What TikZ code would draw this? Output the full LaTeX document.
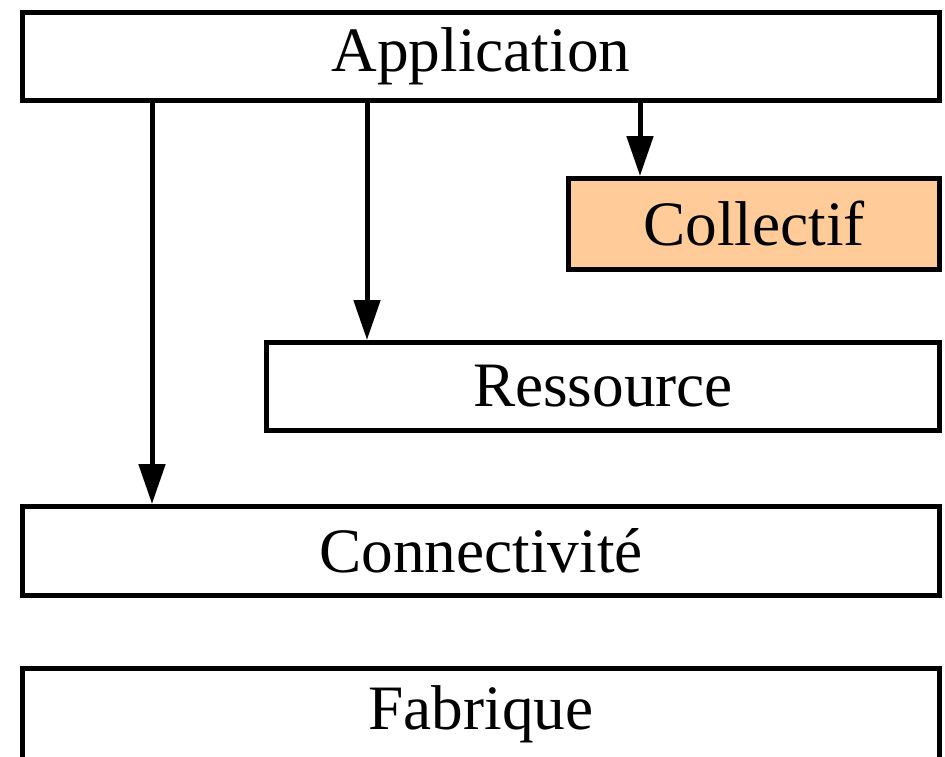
\documentclass[tikz,border=0pt]{standalone}
\usepackage{fontspec}
\setmainfont{Liberation Serif}
\usepackage{xcolor}
\definecolor{gridpeach}{RGB}{255,204,153}
\usetikzlibrary{arrows.meta,positioning}

\begin{document}
\begin{tikzpicture}[
  layer/.style={draw,line width=0.1cm,fill=white,inner sep=0pt,font=\fontsize{36}{40}\selectfont},
  flow/.style={line width=0.1cm,-{Triangle[length=0.8cm,width=0.52cm]}}]
  \useasboundingbox (0,0) rectangle (18.9,-15.12);
  % grid protocol layers
  \node[layer,minimum width=18.34cm,minimum height=1.76cm] (app) at (9.62,-1.13) {Application};
  \node[layer,fill=gridpeach,minimum width=7.42cm,minimum height=1.82cm] (coll) at (15.08,-4.48) {Collectif};
  \node[layer,minimum width=13.46cm,minimum height=1.76cm] (res) at (12.06,-7.73) {Ressource};
  \node[layer,minimum width=18.34cm,minimum height=1.78cm] (conn) at (9.62,-11.02) {Connectivité};
  \node[layer,minimum width=18.34cm,minimum height=1.84cm] (fab) at (9.62,-14.29) {Fabrique};
  \coordinate (xconn) at (3.04,0);
  \coordinate (xres) at (7.34,0);
  \coordinate (xcoll) at (12.8,0);
  \draw[flow] (app.south -| xconn) -- (conn.north -| xconn);
  \draw[flow] (app.south -| xres) -- (res.north -| xres);
  \draw[flow] (app.south -| xcoll) -- (coll.north -| xcoll);
\end{tikzpicture}
\end{document}
